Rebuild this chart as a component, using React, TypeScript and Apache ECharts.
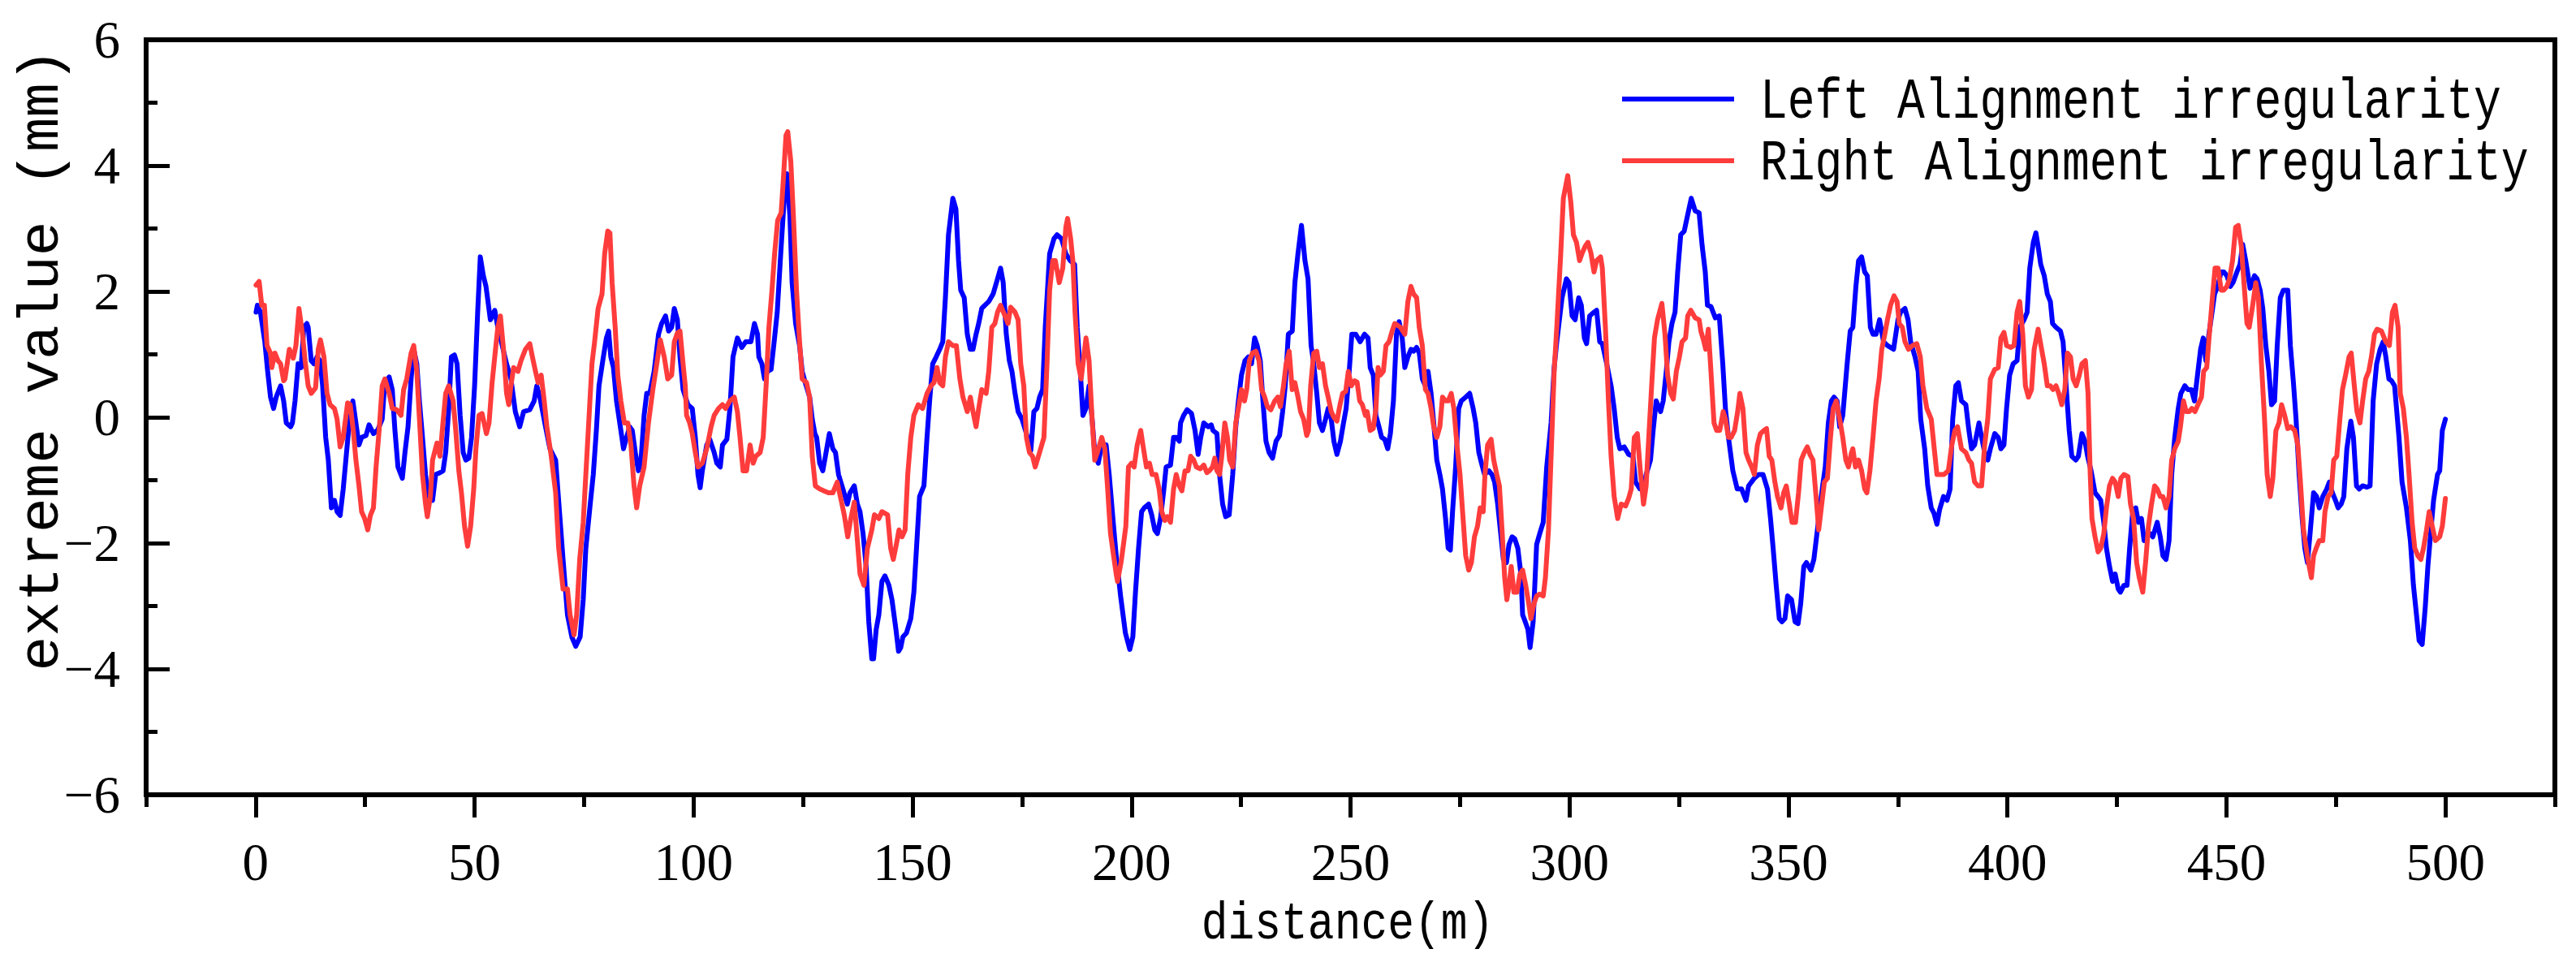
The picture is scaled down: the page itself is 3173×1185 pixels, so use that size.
import React, { useEffect, useRef } from "react";
import * as echarts from "echarts";

const seriesNames = ["Left Alignment irregularity", "Right Alignment irregularity"];
const xAxisName = "distance(m)";
const yAxisName = "extreme value (mm)";
const xMajorTicks = [0, 50, 100, 150, 200, 250, 300, 350, 400, 450, 500];
const xMinorTicks = [-25, 25, 75, 125, 175, 225, 275, 325, 375, 425, 475, 525];

// [distance (m), value (mm)]
const leftAlignment: [number, number][] = [
  [0.1,1.67],[0.4,1.78],[1.1,1.67],[2.1,1.2],[2.75,0.73],[3.4,0.32],[4.1,0.14],[4.7,0.32],[5.7,0.5],[6.4,0.26],[7.0,-0.09],[8.0,-0.15],[8.4,-0.09],[9.0,0.26],[9.7,0.85],[10.4,0.79],[11.0,1.43],[11.7,1.49],[12.0,1.43],[12.7,0.9],[13.3,0.85],[14.0,0.96],[14.7,0.9],[15.3,0.5],[16.0,-0.32],[16.6,-0.68],[17.3,-1.44],[18.0,-1.32],[18.6,-1.5],[19.3,-1.56],[20.0,-1.14],[20.6,-0.68],[21.3,-0.15],[22.2,0.26],[22.9,-0.09],[23.6,-0.44],[24.2,-0.32],[25.2,-0.29],[25.9,-0.12],[26.9,-0.26],[27.9,-0.2],[28.9,-0.03],[29.5,0.55],[30.5,0.64],[31.2,0.44],[31.8,-0.2],[32.5,-0.79],[33.5,-0.97],[34.1,-0.56],[34.8,-0.15],[35.5,0.61],[36.1,1.08],[36.8,0.85],[37.4,0.26],[38.1,-0.32],[38.8,-0.91],[39.4,-1.26],[40.4,-1.32],[41.1,-0.91],[42.1,-0.88],[42.8,-0.85],[43.4,-0.56],[44.1,0.14],[44.7,0.96],[45.4,0.99],[46.0,0.85],[46.7,0.03],[47.4,-0.56],[48.0,-0.68],[48.7,-0.65],[49.3,-0.32],[50.0,0.5],[50.7,1.67],[51.3,2.55],[52.0,2.25],[52.6,2.08],[53.6,1.55],[54.6,1.7],[55.3,1.43],[56.3,1.14],[57.3,0.85],[58.3,0.61],[59.3,0.09],[60.3,-0.15],[61.2,0.09],[62.6,0.12],[63.6,0.26],[64.2,0.5],[64.9,0.32],[66.2,-0.15],[67.2,-0.5],[68.5,-0.68],[69.5,-1.61],[70.2,-2.26],[71.2,-3.14],[72.2,-3.49],[73.1,-3.64],[74.1,-3.49],[74.8,-2.9],[75.4,-2.08],[76.4,-1.38],[77.1,-0.91],[77.8,-0.21],[78.4,0.5],[79.4,0.96],[80.1,1.26],[80.6,1.37],[81.1,0.96],[81.7,0.79],[82.4,0.26],[83.4,-0.21],[84.0,-0.5],[84.7,-0.32],[85.4,-0.15],[86.0,-0.21],[86.7,-0.56],[87.4,-0.85],[88.0,-0.68],[88.7,0.03],[89.3,0.38],[90.0,0.38],[91.0,0.73],[92.0,1.32],[92.7,1.49],[93.6,1.61],[94.3,1.37],[95.0,1.43],[95.6,1.73],[96.3,1.55],[96.9,0.96],[97.6,0.44],
  [98.7,0.2],[99.7,0.14],[100.4,-0.32],[101.0,-0.91],[101.5,-1.12],[102.0,-0.85],[103.0,-0.44],[103.7,-0.35],[104.7,-0.56],[105.3,-0.73],[106.1,-0.79],[106.6,-0.44],[107.6,-0.35],[108.3,0.14],[109.0,0.96],[110.0,1.26],[111.0,1.11],[111.9,1.2],[113.1,1.2],[113.9,1.49],[114.6,1.32],[114.9,0.96],[115.6,0.85],[116.2,0.61],[116.9,0.73],[117.7,0.76],[118.4,1.2],[119.1,1.67],[119.9,2.6],[120.7,3.48],[121.3,3.87],[122.0,3.19],[122.5,2.14],[123.3,1.49],[124.2,1.14],[124.8,0.73],[125.5,0.55],[126.5,0.32],[127.1,-0.03],[127.7,-0.26],[128.1,-0.32],[128.8,-0.73],[129.5,-0.85],[130.1,-0.62],[131.0,-0.26],[131.8,-0.5],[132.4,-0.56],[133.1,-0.91],[134.1,-1.14],[135.1,-1.38],[135.7,-1.2],[136.7,-1.09],[137.4,-1.38],[138.0,-1.5],[138.7,-1.85],[139.4,-2.37],[140.0,-3.25],[140.7,-3.84],[141.1,-3.84],[141.7,-3.37],[142.3,-3.14],[143.0,-2.61],[143.7,-2.52],[144.6,-2.67],[145.3,-2.9],[146.2,-3.37],[146.8,-3.72],[147.3,-3.66],[147.8,-3.49],[148.6,-3.43],[149.6,-3.2],[150.3,-2.78],[150.9,-2.08],[151.6,-1.26],[152.6,-1.09],[153.3,-0.32],[153.9,0.26],[154.6,0.85],[155.4,0.96],[156.2,1.08],[156.9,1.2],[157.5,1.9],[158.2,2.9],[159.2,3.48],[159.9,3.31],[160.5,2.49],[161.0,2.02],[161.8,1.9],[162.5,1.32],[163.2,1.08],[163.8,1.08],[164.5,1.32],[165.1,1.49],[165.8,1.73],[166.5,1.78],[167.4,1.84],[168.4,1.96],[169.4,2.2],[170.1,2.37],[170.7,2.14],[171.4,1.32],[172.1,0.9],[172.7,0.73],[173.4,0.38],[174.1,0.09],[175.0,-0.03],[176.0,-0.26],[177.0,-0.53],[177.7,0.09],[178.4,0.14],[179.0,0.32],[179.7,0.44],[180.3,1.43],[181.3,2.6],[182.3,2.84],[183.0,2.9],[184.0,2.84],[185.0,2.6],[186.0,2.49],[187.0,2.43],[187.6,1.43],[188.3,0.73],[188.9,0.03],[189.6,0.14],[190.3,0.5],[191.0,-0.03],[191.6,-0.56],[192.4,-0.73],[193.2,-0.44],[194.2,-0.44],[194.9,-0.91],[195.9,-1.73],[196.5,-2.2],[197.5,-2.84],
  [198.6,-3.43],[199.6,-3.69],[200.3,-3.49],[200.9,-2.78],[201.6,-2.08],[202.3,-1.5],[202.9,-1.44],[203.9,-1.38],[204.6,-1.55],[205.3,-1.79],[205.9,-1.85],[206.6,-1.61],[207.3,-1.2],[207.9,-0.79],[208.9,-0.76],[209.6,-0.32],[210.2,-0.32],[210.9,-0.38],[211.2,-0.09],[211.9,0.03],[212.7,0.12],[213.7,0.06],[214.5,-0.21],[215.2,-0.59],[215.8,-0.32],[216.5,-0.09],[217.5,-0.15],[218.2,-0.12],[218.6,-0.21],[219.5,-0.26],[220.1,-0.91],[220.8,-1.38],[221.5,-1.58],[222.3,-1.55],[223.1,-0.91],[223.8,-0.15],[224.4,0.26],[225.1,0.67],[225.9,0.9],[226.7,0.96],[227.4,0.85],[228.1,1.26],[228.7,1.14],[229.4,0.9],[230.0,0.26],[230.7,-0.38],[231.4,-0.56],[232.2,-0.65],[233.0,-0.38],[233.8,-0.29],[234.5,0.09],[235.1,0.5],[235.8,1.32],[236.7,1.37],[237.3,2.14],[238.0,2.6],[238.8,3.05],[239.6,2.49],[240.3,2.2],[241.0,1.14],[241.6,0.85],[242.3,0.38],[242.9,-0.09],[243.6,-0.21],[244.3,-0.03],[244.9,0.14],[245.6,-0.03],[246.2,-0.38],[246.9,-0.59],[247.7,-0.38],[248.4,-0.09],[249.0,0.14],[249.7,0.73],[250.3,1.32],[251.2,1.32],[252.2,1.2],[253.2,1.32],[254.0,1.26],[254.5,0.79],[255.2,0.67],[255.8,0.03],[256.5,-0.15],[257.1,-0.32],[257.8,-0.35],[258.5,-0.5],[259.1,-0.26],[259.8,0.26],[260.5,1.32],[261.1,1.52],[261.8,1.26],[262.4,0.79],[263.1,0.96],[263.8,1.08],[264.4,1.05],[265.1,1.11],[265.7,1.02],[266.4,0.61],[267.1,0.5],[267.7,0.73],[268.4,0.38],[269.0,-0.09],[269.7,-0.68],[270.4,-0.91],[271.0,-1.14],[271.7,-1.61],[272.3,-2.08],[272.8,-2.11],[273.3,-1.5],[274.0,-0.79],[274.7,0.14],[275.3,0.26],[276.3,0.32],[277.2,0.38],[278.0,0.14],[278.6,-0.09],[279.3,-0.56],[279.9,-0.73],[280.6,-0.91],[281.6,-0.85],[282.3,-0.91],[282.9,-1.03],[283.6,-1.38],[284.3,-1.85],[284.9,-2.26],[285.6,-2.31],[286.2,-2.02],[286.9,-1.9],[287.5,-1.93],[288.2,-2.08],[288.9,-2.49],[289.3,-3.14],[289.9,-3.25],[290.5,-3.37],[291.0,-3.66],[291.7,-3.25],[292.5,-2.02],[293.2,-1.85],[294.0,-1.67],[294.8,-0.79],[295.8,-0.09],[296.5,0.79],[297.1,1.2],
  [298.3,1.9],[299.3,2.2],[299.9,2.14],[300.6,1.61],[301.3,1.55],[302.1,1.9],[302.7,1.78],[303.4,1.26],[303.9,1.17],[304.6,1.61],[305.6,1.67],[306.2,1.7],[306.9,1.2],[307.5,1.17],[308.5,0.85],[309.5,0.5],[310.2,0.14],[310.9,-0.32],[311.5,-0.5],[312.5,-0.47],[313.5,-0.59],[314.5,-0.62],[315.1,-1.03],[316.1,-1.14],[316.8,-1.14],[317.5,-0.91],[318.5,-0.68],[319.1,-0.21],[319.8,0.26],[320.8,0.09],[321.4,0.26],[322.1,0.73],[322.7,1.2],[323.4,1.49],[324.1,1.67],[324.7,2.31],[325.4,2.9],[326.2,2.96],[326.9,3.19],[327.8,3.48],[328.7,3.28],[329.6,3.25],[330.3,2.72],[331.0,2.31],[331.5,1.78],[332.3,1.76],[333.3,1.58],[334.2,1.61],[335.0,0.85],[335.6,0.14],[336.3,-0.32],[337.3,-0.85],[338.3,-1.14],[339.3,-1.14],[340.3,-1.32],[340.9,-1.09],[342.2,-0.97],[343.2,-0.91],[344.2,-0.91],[345.2,-1.14],[345.9,-1.61],[346.5,-2.08],[347.2,-2.67],[347.9,-3.2],[348.5,-3.25],[349.2,-3.2],[349.8,-2.84],[350.7,-2.9],[351.5,-3.25],[352.2,-3.28],[352.8,-2.96],[353.5,-2.37],[354.1,-2.31],[355.1,-2.43],[355.8,-2.26],[356.5,-1.85],[357.1,-1.5],[357.8,-1.09],[358.4,-0.79],[359.1,-0.09],[359.8,0.26],[360.4,0.32],[361.1,0.26],[361.7,-0.15],[362.4,0.03],[363.4,0.85],[364.1,1.37],[364.7,1.43],[365.4,2.08],[366.0,2.49],[366.7,2.55],[367.4,2.31],[368.0,2.25],[368.7,1.43],[369.3,1.32],[370.0,1.32],[370.8,1.55],[371.7,1.2],[372.6,1.14],[374.0,1.08],[375.0,1.55],[375.6,1.67],[376.6,1.73],[377.3,1.55],[377.9,1.2],[378.9,0.96],[379.6,0.73],[380.2,-0.03],[381.1,-0.5],[381.8,-1.09],[382.6,-1.44],[383.2,-1.52],[383.9,-1.7],[384.5,-1.47],[385.4,-1.26],[386.2,-1.32],[386.9,-1.14],[387.5,-0.03],[388.2,0.5],[388.8,0.55],[389.5,0.26],[390.5,0.2],[391.2,-0.21],[391.8,-0.5],[392.5,-0.44],[393.5,-0.09],[394.1,-0.32],[394.8,-0.56],[395.5,-0.68],[396.1,-0.5],[397.1,-0.26],
  [397.9,-0.32],[398.5,-0.5],[399.2,-0.44],[399.8,0.14],[400.5,0.67],[401.3,0.85],[402.2,0.9],[402.8,1.43],[403.8,1.55],[404.5,1.67],[405.1,2.37],[405.9,2.78],[406.5,2.93],[407.1,2.67],[407.6,2.43],[408.4,2.25],[409.1,1.96],[409.8,1.84],[410.3,1.49],[411.1,1.43],[412.1,1.37],[412.7,1.2],[413.4,0.5],[414.1,-0.21],[414.7,-0.62],[415.6,-0.68],[416.2,-0.62],[417.0,-0.26],[417.7,-0.38],[418.3,-0.62],[419.1,-0.85],[420.0,-1.2],[420.7,-1.26],[421.3,-1.32],[422.0,-1.67],[422.6,-2.08],[423.3,-2.37],[424.0,-2.61],[424.6,-2.49],[425.3,-2.73],[425.8,-2.78],[426.6,-2.67],[427.3,-2.67],[427.9,-2.08],[428.6,-1.5],[429.3,-1.44],[429.9,-1.67],[430.6,-1.61],[431.2,-1.96],[431.9,-1.9],[432.6,-1.85],[433.2,-1.9],[434.2,-1.67],[434.9,-1.9],[435.5,-2.2],[436.2,-2.26],[436.9,-1.96],[437.5,-0.91],[438.2,-0.32],[439.0,0.14],[439.6,0.38],[440.5,0.5],[441.2,0.44],[442.0,0.44],[442.7,0.26],[443.5,0.73],[444.1,1.08],[444.7,1.26],[445.3,0.9],[446.0,1.32],[446.6,1.61],[447.3,1.96],[448.0,2.08],[448.8,2.31],[449.4,2.31],[450.1,2.25],[450.9,2.08],[451.5,2.14],[452.4,2.31],[453.1,2.43],[453.7,2.75],[454.4,2.49],[455.4,2.05],[456.4,2.25],[457.0,2.2],[457.7,2.02],[458.3,1.73],[459.0,1.14],[459.7,0.73],[460.3,0.2],[461.0,0.26],[461.6,1.14],[462.3,1.9],[463.0,2.02],[464.0,2.02],[464.6,1.14],[465.3,0.55],[465.9,-0.03],[466.6,-0.91],[467.3,-1.61],[467.9,-2.08],[468.5,-2.31],[469.1,-1.85],[469.9,-1.2],[470.6,-1.26],[471.2,-1.44],[472.0,-1.26],[472.9,-1.14],[473.5,-1.03],[474.2,-1.2],[474.9,-1.32],[475.5,-1.44],[476.2,-1.38],[476.8,-1.26],[477.5,-0.5],[478.4,-0.06],[479.0,-0.32],[479.7,-1.09],[480.3,-1.14],[481.1,-1.09],[482.1,-1.11],[482.8,-1.09],[483.5,0.26],[484.3,0.85],[485.1,1.08],[485.8,1.2],[486.4,0.96],[487.1,0.61],[487.7,0.58],[488.4,0.5],[489.4,-0.32],[490.1,-1.03],[491.1,-1.44],[492.0,-1.96],[492.7,-2.67],[493.4,-3.14],[494.0,-3.55],[494.7,-3.61],[495.4,-3.02],[496.0,-2.37],[496.7,-1.79],[497.3,-1.32],[498.2,-0.91],[498.7,-0.85],[499.3,-0.21],[500.0,-0.03]
];

const rightAlignment: [number, number][] = [
  [0.1,2.1],[0.8,2.16],[1.4,1.78],[2.0,1.78],[2.6,1.14],[3.4,1.02],[3.7,0.79],[4.4,1.02],[5.1,0.9],[5.7,0.85],[6.4,0.58],[6.7,0.61],[7.7,1.08],[8.6,0.94],[9.2,1.14],[9.9,1.73],[10.7,1.32],[11.3,0.9],[12.0,0.5],[12.7,0.38],[13.7,0.47],[14.3,1.08],[14.8,1.23],[15.6,0.96],[16.3,0.38],[17.0,0.2],[18.0,0.14],[18.6,-0.03],[19.3,-0.47],[20.0,-0.32],[21.0,0.23],[21.6,0.2],[22.3,-0.21],[22.9,-0.68],[23.6,-1.09],[24.2,-1.5],[24.9,-1.61],[25.6,-1.79],[26.2,-1.56],[26.9,-1.44],[27.5,-0.79],[28.2,-0.21],[28.9,0.5],[29.5,0.61],[30.5,0.38],[31.2,0.14],[32.2,0.12],[33.2,0.03],[33.8,0.44],[34.5,0.61],[35.5,1.02],[36.1,1.14],[36.8,0.73],[37.5,-0.15],[38.1,-0.91],[38.8,-1.38],[39.2,-1.58],[39.9,-1.26],[40.4,-0.68],[41.4,-0.41],[42.1,-0.62],[42.7,-0.15],[43.4,0.38],[44.1,0.5],[45.1,0.26],[45.7,-0.21],[46.4,-0.85],[47.0,-1.2],[47.7,-1.73],[48.4,-2.05],[49.1,-1.73],[49.8,-1.14],[50.3,-0.5],[51.0,0.03],[51.7,0.06],[52.7,-0.26],[53.3,-0.09],[54.0,0.55],[54.6,0.96],[55.3,1.43],[55.9,1.61],[56.6,1.08],[57.3,0.38],[57.8,0.2],[58.3,0.5],[58.9,0.79],[59.9,0.73],[60.6,0.9],[61.6,1.08],[62.6,1.17],[63.2,0.96],[63.9,0.73],[64.5,0.55],[65.2,0.67],[65.9,0.26],[66.5,-0.15],[67.5,-0.62],[68.5,-1.2],[69.2,-2.08],[70.2,-2.73],[71.2,-2.73],[71.8,-3.14],[72.7,-3.46],[73.3,-3.14],[74.0,-2.26],[74.8,-1.67],[75.4,-0.91],[76.1,-0.03],[76.8,0.85],[77.4,1.2],[78.2,1.73],[79.1,1.96],[79.7,2.6],[80.4,2.96],[80.9,2.93],[81.4,2.14],[82.1,1.43],[82.7,0.67],[83.4,0.26],[84.2,-0.09],[85.0,-0.09],[85.7,-0.44],[86.4,-1.09],[87.0,-1.44],[87.7,-1.09],[88.7,-0.79],[89.7,-0.09],[90.7,0.44],[91.6,0.85],[92.4,1.23],[93.3,0.96],[94.1,0.61],[95.0,0.67],[95.6,1.2],[96.3,1.34],[96.9,1.37],[97.6,0.85],
  [98.1,0.5],[98.4,0.03],[99.1,-0.09],[99.7,-0.26],[100.4,-0.56],[101.0,-0.79],[102.0,-0.73],[103.0,-0.5],[104.0,-0.15],[104.7,0.03],[105.7,0.14],[106.6,0.2],[107.3,0.14],[108.3,0.26],[109.3,0.32],[110.0,0.09],[110.6,-0.32],[111.3,-0.85],[112.1,-0.85],[112.9,-0.44],[113.6,-0.73],[114.2,-0.62],[115.2,-0.56],[115.9,-0.32],[116.6,0.55],[117.2,1.43],[117.9,2.02],[118.5,2.6],[119.2,3.13],[120.0,3.25],[120.5,3.78],[121.1,4.48],[121.5,4.54],[122.2,4.07],[122.8,3.19],[123.5,2.02],[124.2,1.2],[124.8,0.61],[125.8,0.55],[126.5,0.32],[127.1,-0.62],[127.8,-1.09],[128.8,-1.14],[129.8,-1.17],[130.8,-1.2],[131.8,-1.2],[132.8,-1.03],[133.7,-1.32],[134.4,-1.55],[135.2,-1.9],[135.9,-1.61],[136.7,-1.35],[137.4,-1.96],[138.0,-2.49],[138.9,-2.67],[139.7,-2.08],[140.7,-1.79],[141.3,-1.55],[142.3,-1.61],[143.0,-1.5],[144.3,-1.55],[145.0,-2.08],[145.6,-2.26],[146.3,-2.02],[146.9,-1.79],[147.6,-1.9],[148.3,-1.79],[148.9,-0.91],[149.6,-0.32],[150.3,0.03],[151.3,0.2],[152.3,0.14],[153.3,0.38],[154.2,0.5],[154.9,0.55],[155.6,0.79],[156.2,0.55],[156.9,0.5],[157.5,0.96],[158.2,1.2],[159.2,1.14],[160.0,1.14],[160.8,0.61],[161.5,0.32],[162.5,0.09],[163.2,0.32],[163.8,0.09],[164.5,-0.15],[165.1,0.14],[165.8,0.44],[166.8,0.38],[167.4,0.73],[168.1,1.43],[168.8,1.49],[169.4,1.67],[170.1,1.78],[171.1,1.61],[171.8,1.49],[172.4,1.75],[173.4,1.67],[174.1,1.55],[174.7,0.85],[175.4,0.5],[176.0,-0.32],[176.7,-0.56],[177.4,-0.62],[178.0,-0.79],[179.0,-0.56],[180.0,-0.32],[180.7,0.85],[181.3,2.02],[182.0,2.49],[182.6,2.49],[183.5,2.14],[184.3,2.37],[185.0,3.02],[185.4,3.16],[186.1,2.84],[186.6,2.49],[187.1,1.67],[187.8,0.85],[188.5,0.61],[189.1,0.96],[189.6,1.26],[190.3,0.9],[191.0,-0.03],[191.6,-0.68],[192.2,-0.56],[193.2,-0.32],[193.9,-0.5],[194.5,-1.09],[195.2,-1.85],[195.9,-2.2],[196.5,-2.49],[196.8,-2.61],
  [197.6,-2.31],[198.2,-2.0],[198.7,-1.73],[199.3,-0.79],[200.0,-0.73],[200.6,-0.79],[201.3,-0.44],[202.1,-0.21],[202.6,-0.44],[203.4,-0.79],[204.1,-0.73],[204.7,-0.91],[205.6,-0.91],[206.3,-1.14],[206.9,-1.5],[207.6,-1.64],[208.2,-1.58],[208.9,-1.67],[209.6,-1.14],[210.2,-0.91],[210.9,-1.09],[211.5,-1.17],[212.2,-0.85],[212.9,-0.85],[213.5,-0.62],[214.2,-0.68],[214.8,-0.79],[215.7,-0.82],[216.5,-0.76],[217.2,-0.88],[217.8,-0.85],[218.5,-0.79],[219.0,-0.65],[219.5,-0.85],[220.1,-0.91],[220.6,-0.62],[221.3,-0.09],[221.9,-0.32],[222.4,-0.68],[223.1,-0.79],[223.8,-0.09],[224.4,0.14],[225.1,0.44],[225.8,0.26],[226.3,0.44],[226.9,0.9],[227.6,1.02],[228.4,1.05],[229.1,0.9],[229.7,0.44],[230.4,0.32],[231.0,0.17],[231.8,0.12],[232.7,0.26],[233.4,0.32],[234.0,0.17],[234.7,0.5],[235.3,0.85],[236.0,1.05],[236.7,0.44],[237.3,0.55],[238.0,0.32],[238.6,0.09],[239.3,-0.03],[240.0,-0.29],[240.4,-0.21],[240.9,0.5],[241.6,1.02],[242.3,1.05],[242.9,0.79],[243.6,0.85],[244.3,0.5],[244.9,0.32],[245.6,0.09],[246.2,0.0],[246.9,-0.06],[247.6,0.2],[248.2,0.38],[248.9,0.41],[249.5,0.73],[250.2,0.5],[250.9,0.58],[251.5,0.56],[252.1,0.26],[252.7,0.2],[253.4,0.03],[253.8,0.09],[254.5,-0.21],[255.2,-0.18],[255.8,0.14],[256.3,0.79],[256.8,0.67],[257.5,0.73],[258.1,1.14],[258.8,1.2],[259.5,1.37],[260.1,1.49],[260.8,1.46],[261.4,1.43],[262.4,1.32],[263.1,1.84],[263.8,2.08],[264.4,1.96],[265.1,1.9],[265.7,1.43],[266.4,1.14],[267.1,0.44],[267.7,0.38],[268.4,0.14],[269.0,-0.15],[269.7,-0.32],[270.4,-0.15],[271.0,0.32],[271.7,0.26],[272.3,0.26],[273.0,0.38],[273.6,0.14],[274.3,-0.44],[275.0,-0.91],[275.7,-1.61],[276.3,-2.2],[277.0,-2.43],[277.6,-2.31],[278.3,-1.9],[279.0,-1.73],[279.6,-1.44],[280.3,-1.5],[280.7,-0.91],[281.3,-0.44],[282.1,-0.35],[282.7,-0.68],[283.4,-0.91],[284.0,-1.09],[284.6,-1.79],[285.2,-2.55],[285.7,-2.9],[286.2,-2.67],[286.7,-2.37],[287.3,-2.78],[288.0,-2.78],[288.7,-2.49],[289.3,-2.43],[290.0,-2.67],[290.7,-2.96],[291.2,-3.2],[291.9,-2.96],[292.5,-2.84],[293.2,-2.81],[294.0,-2.84],[294.5,-2.55],[295.2,-1.79],[295.8,-0.62],[296.5,0.73],[297.1,1.43],
  [298.0,2.6],[298.6,3.48],[299.6,3.84],[300.3,3.42],[300.9,2.9],[301.6,2.78],[302.3,2.49],[302.9,2.61],[303.6,2.72],[304.2,2.78],[304.9,2.61],[305.6,2.31],[306.2,2.49],[307.1,2.55],[307.5,2.37],[308.2,1.43],[308.9,0.26],[309.5,-0.62],[310.2,-1.26],[311.0,-1.61],[311.8,-1.38],[312.8,-1.41],[313.5,-1.29],[314.1,-1.14],[314.8,-0.32],[315.5,-0.26],[316.1,-0.79],[316.9,-1.38],[317.5,-1.09],[318.1,-0.32],[318.8,0.55],[319.4,1.26],[320.1,1.55],[321.1,1.81],[321.8,1.32],[322.4,0.67],[323.1,0.38],[323.7,0.29],[324.4,0.73],[325.1,0.96],[325.7,1.2],[326.5,1.26],[327.0,1.61],[327.7,1.7],[328.7,1.58],[329.6,1.55],[330.0,1.37],[330.7,1.2],[331.1,1.08],[331.7,1.4],[332.3,0.73],[333.0,-0.09],[333.6,-0.21],[334.3,-0.21],[335.1,0.09],[335.6,-0.03],[336.3,-0.32],[336.9,-0.32],[337.7,-0.21],[338.4,0.09],[338.9,0.38],[339.6,0.14],[340.3,-0.56],[340.9,-0.68],[341.6,-0.79],[342.2,-0.91],[342.9,-0.44],[343.6,-0.26],[344.4,-0.21],[345.0,-0.18],[345.6,-0.62],[346.2,-0.68],[346.9,-1.03],[347.5,-1.26],[348.3,-1.44],[348.9,-1.2],[349.5,-1.09],[350.2,-1.38],[350.8,-1.67],[351.6,-1.67],[352.3,-1.2],[352.9,-0.68],[353.6,-0.56],[354.3,-0.47],[354.9,-0.59],[355.6,-0.68],[356.3,-1.26],[356.9,-1.79],[357.6,-1.38],[358.2,-1.03],[358.9,-0.97],[359.6,-0.32],[360.2,0.14],[360.9,0.26],[361.7,-0.03],[362.4,-0.32],[363.1,-0.68],[363.7,-0.79],[364.4,-0.56],[364.7,-0.5],[365.3,-0.79],[366.0,-0.68],[366.7,-0.85],[367.4,-1.14],[367.9,-1.2],[368.6,-0.85],[369.3,-0.32],[370.0,0.26],[370.7,0.61],[371.3,1.08],[372.0,1.32],[372.6,1.55],[373.3,1.78],[374.1,1.93],[374.8,1.84],[375.3,1.49],[376.0,1.43],[376.6,1.2],[377.4,1.08],[378.3,1.14],[379.3,1.17],[380.1,0.96],[380.7,0.5],[381.6,0.14],[382.6,-0.03],[383.2,-0.44],[383.9,-0.91],[384.5,-0.91],[385.5,-0.91],[386.5,-0.85],[387.3,-0.44],[388.0,-0.21],[388.6,-0.15],[389.5,-0.5],[390.5,-0.56],[391.2,-0.68],[391.8,-0.73],[392.5,-1.03],[393.3,-1.09],[394.1,-1.09],[394.8,-0.44],[395.5,-0.03],[396.1,0.61],[397.1,0.76],
  [397.9,0.79],[398.5,1.26],[399.2,1.35],[399.8,1.14],[400.8,1.11],[401.5,1.14],[402.2,1.67],[402.8,1.84],[403.5,1.32],[404.1,0.5],[404.8,0.32],[405.5,0.44],[406.1,1.08],[407.0,1.4],[407.8,1.08],[408.4,0.85],[409.1,0.5],[409.8,0.5],[410.4,0.44],[411.1,0.5],[411.7,0.38],[412.4,0.2],[413.1,0.44],[413.7,1.02],[414.4,0.96],[415.0,0.61],[415.7,0.5],[416.4,0.67],[417.0,0.85],[417.8,0.9],[418.4,0.38],[418.9,-0.91],[419.3,-1.61],[420.0,-1.9],[420.7,-2.14],[421.3,-2.08],[422.0,-1.85],[422.6,-1.44],[423.3,-1.09],[424.0,-0.97],[424.6,-1.03],[425.3,-1.26],[425.9,-0.97],[426.6,-0.91],[427.5,-0.94],[428.1,-1.38],[428.8,-1.61],[429.5,-2.31],[430.1,-2.55],[430.9,-2.78],[431.6,-2.26],[432.2,-1.73],[432.9,-1.38],[433.6,-1.09],[434.2,-1.14],[434.9,-1.26],[435.5,-1.26],[436.2,-1.44],[436.9,-1.26],[437.5,-0.68],[438.2,-0.5],[439.0,-0.38],[439.5,-0.15],[440.2,0.26],[440.8,0.09],[441.5,0.09],[442.1,0.14],[442.8,0.09],[443.5,0.2],[444.3,0.32],[444.8,0.73],[445.5,0.79],[446.1,1.32],[446.8,1.9],[447.4,2.37],[448.1,2.37],[448.8,2.02],[449.4,2.02],[450.1,2.08],[450.7,2.2],[451.4,2.49],[452.1,3.02],[452.7,3.05],[453.4,2.72],[454.0,2.14],[454.7,1.49],[455.2,1.43],[456.0,1.78],[456.7,2.14],[457.3,1.9],[458.0,0.85],[458.7,-0.03],[459.3,-0.91],[460.0,-1.26],[460.6,-0.97],[461.3,-0.21],[462.0,-0.09],[462.6,0.2],[463.3,0.03],[464.0,-0.18],[464.7,-0.15],[465.6,-0.21],[466.3,-0.44],[466.9,-1.03],[467.6,-1.79],[468.6,-2.26],[469.4,-2.55],[469.9,-2.2],[470.5,-2.08],[471.2,-1.96],[472.0,-1.96],[472.5,-1.5],[473.2,-1.26],[473.9,-1.2],[474.5,-0.68],[475.2,-0.62],[475.9,-0.03],[476.5,0.44],[477.2,0.67],[478.0,0.96],[478.5,1.02],[479.2,0.5],[479.8,0.09],[480.5,-0.09],[481.1,0.26],[481.8,0.61],[482.5,0.73],[483.1,0.96],[483.8,1.32],[484.4,1.4],[485.4,1.37],[486.4,1.2],[487.2,1.14],[487.9,1.67],[488.5,1.78],[489.2,1.43],[489.7,0.38],[490.4,0.14],[491.1,-0.32],[491.7,-0.91],[492.4,-1.67],[493.0,-2.08],[493.7,-2.2],[494.4,-2.26],[495.0,-2.08],[495.7,-1.79],[496.3,-1.5],[497.0,-1.73],[497.7,-1.96],[498.7,-1.9],[499.3,-1.73],[500.0,-1.29]
];

const seriesColors = ["#0000ff", "#ff3c3c"];

export default function App() {
  const ref = useRef<HTMLDivElement>(null);

  useEffect(() => {
    document.body.style.margin = "0";
    document.body.style.overflow = "hidden";
    const chart = echarts.init(ref.current!, null, { renderer: "svg" });
    const black = "#000";
    const option: any = {
      animation: false,
      backgroundColor: "#ffffff",
      grid: {
        left: 180,
        right: 26,
        top: 49,
        bottom: 206,
        show: true,
        borderColor: black,
        borderWidth: 6,
        containLabel: false,
      },
      xAxis: [
        {
          type: "value",
          min: -25,
          max: 525,
          position: "bottom",
          axisLine: { show: true, onZero: false, lineStyle: { color: black, width: 6 } },
          axisTick: {
            show: true,
            inside: false,
            length: 28,
            customValues: xMajorTicks,
            lineStyle: { color: black, width: 5 },
          },
          axisLabel: {
            show: true,
            customValues: xMajorTicks,
            margin: 50,
            color: black,
            fontFamily: "Liberation Serif",
            fontSize: 65,
          },
          splitLine: { show: false },
        },
        {
          type: "value",
          min: -25,
          max: 525,
          position: "bottom",
          axisLine: { show: false, onZero: false },
          axisTick: {
            show: true,
            inside: false,
            length: 15,
            customValues: xMinorTicks,
            lineStyle: { color: black, width: 5 },
          },
          axisLabel: { show: false },
          splitLine: { show: false },
        },
      ],
      yAxis: {
        type: "value",
        min: -6,
        max: 6,
        interval: 2,
        axisLine: { show: true, onZero: false, lineStyle: { color: black, width: 6 } },
        axisTick: { show: true, inside: true, length: 29, lineStyle: { color: black, width: 5 } },
        minorTick: { show: true, splitNumber: 2, length: 14, lineStyle: { color: black, width: 5 } },
        axisLabel: {
          margin: 32,
          color: black,
          fontFamily: "Liberation Serif",
          fontSize: 65,
          formatter: (v: number) => (v < 0 ? "\u2212" + Math.abs(v) : String(v)),
        },
        splitLine: { show: false },
        minorSplitLine: { show: false },
      },
      graphic: [
        {
          type: "text",
          x: 52,
          y: 443,
          rotation: Math.PI / 2,
          style: {
            text: yAxisName,
            fill: black,
            font: '71px "Liberation Mono"',
            align: "center",
            verticalAlign: "middle",
          },
        },
        {
          type: "text",
          x: 1660,
          y: 1139,
          scaleX: 0.84,
          style: {
            text: xAxisName,
            fill: black,
            font: '65px "Liberation Mono"',
            align: "center",
            verticalAlign: "middle",
          },
        },
        {
          type: "line",
          shape: { x1: 1998, y1: 122, x2: 2136, y2: 122 },
          style: { stroke: seriesColors[0], lineWidth: 6 },
        },
        {
          type: "text",
          x: 2168,
          y: 126,
          scaleX: 0.805,
          style: {
            text: seriesNames[0],
            fill: black,
            font: '70px "Liberation Mono"',
            align: "left",
            verticalAlign: "middle",
          },
        },
        {
          type: "line",
          shape: { x1: 1998, y1: 198, x2: 2136, y2: 198 },
          style: { stroke: seriesColors[1], lineWidth: 6 },
        },
        {
          type: "text",
          x: 2168,
          y: 202,
          scaleX: 0.805,
          style: {
            text: seriesNames[1],
            fill: black,
            font: '70px "Liberation Mono"',
            align: "left",
            verticalAlign: "middle",
          },
        },
      ],
      series: [
        {
          name: seriesNames[0],
          type: "line",
          xAxisIndex: 0,
          data: leftAlignment,
          showSymbol: false,
          symbol: "none",
          lineStyle: { color: seriesColors[0], width: 6, join: "round", cap: "round" },
          itemStyle: { color: seriesColors[0] },
        },
        {
          name: seriesNames[1],
          type: "line",
          xAxisIndex: 0,
          data: rightAlignment,
          showSymbol: false,
          symbol: "none",
          lineStyle: { color: seriesColors[1], width: 6, join: "round", cap: "round" },
          itemStyle: { color: seriesColors[1] },
        },
      ],
    };
    chart.setOption(option);
    return () => chart.dispose();
  }, []);

  return <div ref={ref} style={{ width: 3173, height: 1185 }} />;
}
